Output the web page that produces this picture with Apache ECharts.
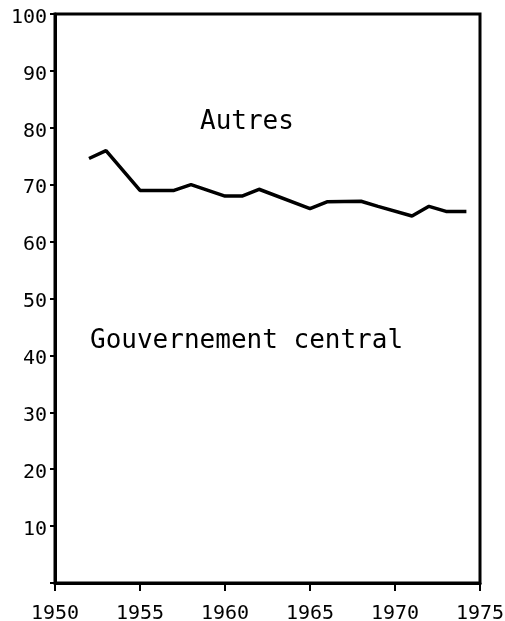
<!DOCTYPE html>
<html>
<head>
<meta charset="utf-8">
<script src="https://cdn.jsdelivr.net/npm/echarts@6/dist/echarts.min.js"></script>
<style>
  html, body { margin: 0; padding: 0; background: #fff; }
  #chart { width: 505px; height: 621px; }
</style>
</head>
<body>
<div id="chart"></div>
<script>
// Share of central government (%) by year
const years = [1952, 1953, 1955, 1957, 1958, 1960, 1961, 1962, 1965, 1966, 1968, 1969, 1971, 1972, 1973, 1974.2];
const shares = [74.6, 76.0, 69.0, 69.0, 70.0, 68.0, 68.0, 69.2, 65.8, 67.0, 67.1, 66.2, 64.5, 66.2, 65.3, 65.3];
const xTicks = [1950, 1955, 1960, 1965, 1970, 1975];
const yTicks = [10, 20, 30, 40, 50, 60, 70, 80, 90, 100];
const upperLabel = 'Autres';
const lowerLabel = 'Gouvernement central';

const font = '"DejaVu Sans Mono", "Liberation Mono", monospace';

const chart = echarts.init(document.getElementById('chart'));

chart.setOption({
    animation: false,
    backgroundColor: '#fff',
    grid: {
        left: 55, right: 25, top: 14, bottom: 38,
        outerBoundsMode: 'none',
        containLabel: false,
        show: true,
        borderColor: '#000',
        borderWidth: 3
    },
    xAxis: {
        type: 'value',
        min: xTicks[0],
        max: xTicks[xTicks.length - 1],
        interval: 5,
        splitLine: { show: false },
        axisLine: { lineStyle: { color: '#000', width: 3 } },
        axisTick: { show: true, length: 8, lineStyle: { color: '#000', width: 2 } },
        axisLabel: {
            color: '#000',
            fontFamily: font,
            fontSize: 20,
            margin: 21,
            formatter: v => xTicks.includes(v) ? String(v) : ''
        }
    },
    yAxis: {
        type: 'value',
        min: 0,
        max: 100,
        interval: 10,
        splitLine: { show: false },
        axisLine: { lineStyle: { color: '#000', width: 3 } },
        axisTick: { show: true, length: 5, lineStyle: { color: '#000', width: 2 } },
        axisLabel: {
            color: '#000',
            fontFamily: font,
            fontSize: 20,
            margin: 8,
            verticalAlign: 'top',
            lineHeight: 7,
            formatter: v => yTicks.includes(v) ? String(v) : ''
        }
    },
    series: [{
        type: 'line',
        data: years.map((y, i) => [y, shares[i]]),
        showSymbol: false,
        lineStyle: { color: '#000', width: 3.5 },
        z: 5
    }],
    graphic: [
        {
            type: 'text', left: 200, top: 109,
            style: { text: upperLabel, fill: '#000', font: '26px ' + font }
        },
        {
            type: 'text', left: 90, top: 328,
            style: { text: lowerLabel, fill: '#000', font: '26px ' + font }
        }
    ]
});
</script>
</body>
</html>
